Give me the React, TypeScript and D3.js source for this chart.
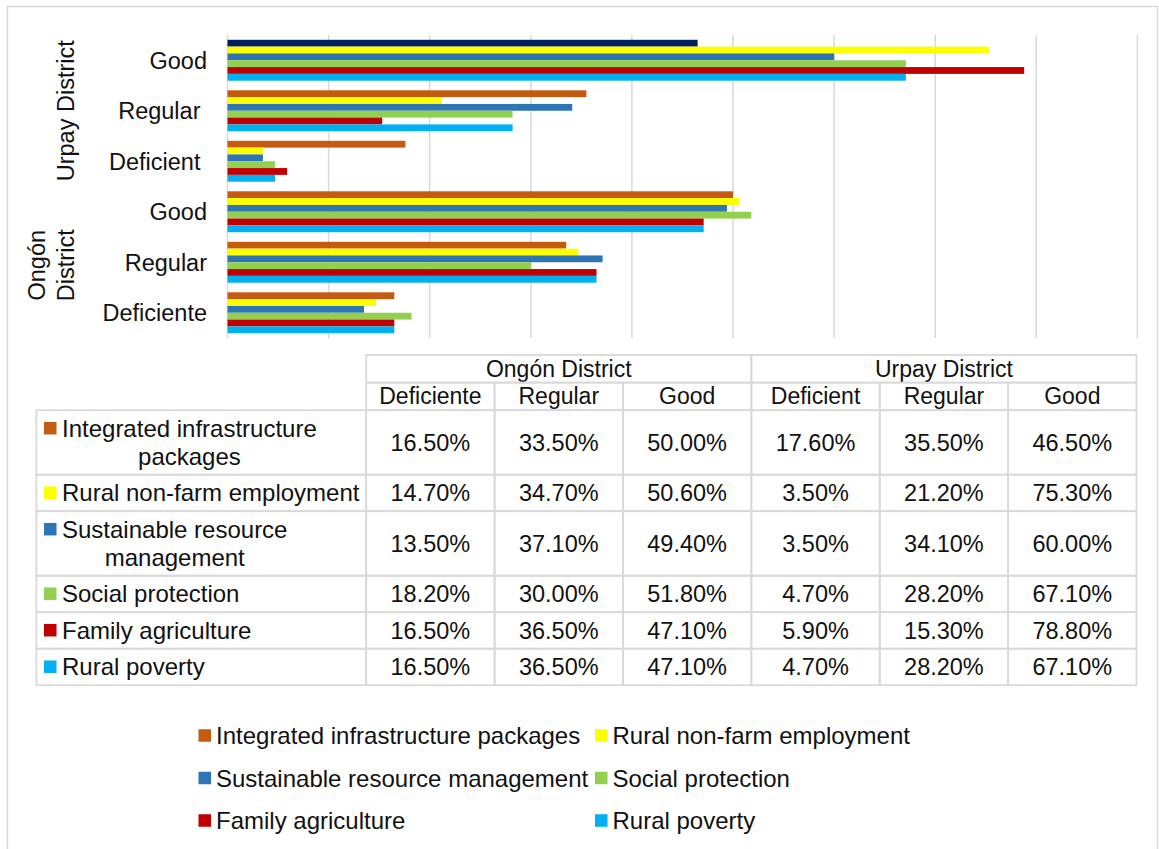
import { useEffect, useRef } from 'react';
import * as d3 from 'd3';

// series (rows of the data table)
const seriesNames = [
  'Integrated infrastructure packages',
  'Rural non-farm employment',
  'Sustainable resource management',
  'Social protection',
  'Family agriculture',
  'Rural poverty',
];
const seriesColors = ['#C55A11', '#FFFF00', '#2E75B6', '#92D050', '#C00000', '#00B0F0'];

// columns of the data table
const districts = ['Ongón District', 'Urpay District'];
const ongonLevels = ['Deficiente', 'Regular', 'Good'];
const urpayLevels = ['Deficient ', 'Regular ', 'Good'];

// values in table column order: Ongón Deficiente, Regular, Good, Urpay Deficient, Regular, Good
const integrated = [0.165, 0.335, 0.5, 0.176, 0.355, 0.465];
const nonFarm = [0.147, 0.347, 0.506, 0.035, 0.212, 0.753];
const sustainable = [0.135, 0.371, 0.494, 0.035, 0.341, 0.6];
const socialProtection = [0.182, 0.3, 0.518, 0.047, 0.282, 0.671];
const familyAgriculture = [0.165, 0.365, 0.471, 0.059, 0.153, 0.788];
const ruralPoverty = [0.165, 0.365, 0.471, 0.047, 0.282, 0.671];

const seriesValues = [integrated, nonFarm, sustainable, socialProtection, familyAgriculture, ruralPoverty];

// one point recoloured in the original (Integrated infrastructure, Urpay Good)
const overridePoint = { series: 0, column: 5, color: '#002060' };

const FONT = 'Arial, "Liberation Sans", sans-serif';
const GRID = '#d9d9d9';

export default function App() {
  const ref = useRef<SVGSVGElement>(null);

  useEffect(() => {
    const svg = d3.select(ref.current);
    svg.selectAll('*').remove();

    const width = 1159;
    const height = 849;

    // outer chart border
    svg
      .append('rect')
      .attr('x', 7.5)
      .attr('y', 6.5)
      .attr('width', width - 9)
      .attr('height', height + 10)
      .attr('fill', '#fff')
      .attr('stroke', GRID)
      .attr('stroke-width', 1.5);

    const columnLabels = [...ongonLevels, ...urpayLevels];
    const columnIds = columnLabels.map((_, i) => String(i));
    // chart shows the columns bottom-up
    const order = [...columnIds].reverse();

    // setup scales
    const x = d3.scaleLinear().domain([0, 0.9]).range([227.5, 1137.4]);
    const y = d3.scaleBand().domain(order).range([35, 338]).paddingInner(0.19).paddingOuter(0.095);
    const inner = d3.scaleBand().domain(seriesNames).range([0, y.bandwidth()]);

    // gridlines
    svg
      .append('g')
      .selectAll('line')
      .data(x.ticks(9))
      .join('line')
      .attr('x1', (d) => x(d))
      .attr('x2', (d) => x(d))
      .attr('y1', 35)
      .attr('y2', 338)
      .attr('stroke', GRID)
      .attr('stroke-width', 1.5);

    // bars
    const bars = [];
    seriesNames.forEach((name, s) => {
      seriesValues[s].forEach((v, c) => {
        bars.push({ name, s, c: String(c), v });
      });
    });
    svg
      .append('g')
      .selectAll('rect')
      .data(bars)
      .join('rect')
      .attr('x', x(0))
      .attr('y', (d) => y(d.c) + inner(d.name))
      .attr('width', (d) => x(d.v) - x(0))
      .attr('height', inner.bandwidth())
      .attr('fill', (d) =>
        d.s === overridePoint.series && +d.c === overridePoint.column ? overridePoint.color : seriesColors[d.s]
      );

    // category labels
    svg
      .append('g')
      .selectAll('text')
      .data(columnIds)
      .join('text')
      .attr('x', 207)
      .attr('y', (d) => y(d) + y.bandwidth() / 2 + 8.3)
      .attr('text-anchor', 'end')
      .style('white-space', 'pre')
      .attr('font-family', FONT)
      .attr('font-size', 23.5)
      .attr('fill', '#111')
      .text((d) => columnLabels[+d]);

    // district group labels (rotated, wrapped when too long)
    const measure = svg.append('text').attr('font-family', FONT).attr('font-size', 23);
    const textWidth = (t: string, size = 23) => {
      measure.attr('font-size', size).text(t);
      return (measure.node() as SVGTextElement).getComputedTextLength();
    };
    const wrap = (t: string, maxW: number, size = 23) => {
      const words = t.split(' ');
      const lines: string[] = [];
      let cur = '';
      words.forEach((w) => {
        const next = cur ? cur + ' ' + w : w;
        if (cur && textWidth(next, size) > maxW) {
          lines.push(cur);
          cur = w;
        } else cur = next;
      });
      lines.push(cur);
      return lines;
    };

    districts.forEach((name, g) => {
      const ids = columnIds.slice(g * 3, g * 3 + 3);
      const cy = d3.mean(ids, (d) => y(d) + y.bandwidth() / 2) + (g === 0 ? 3 : 0);
      const lines = wrap(name, 144, 23.5);
      lines.forEach((line, i) => {
        const cx = 65.5 - (lines.length - 1 - i) * 29;
        svg
          .append('text')
          .attr('transform', `translate(${cx},${cy}) rotate(-90)`)
          .attr('y', 8.3)
          .attr('text-anchor', 'middle')
          .attr('font-family', FONT)
          .attr('font-size', 23.5)
          .attr('fill', '#111')
          .text(line);
      });
    });

    // data table
    const tableLeft = 36.4;
    const labelRight = 366.2;
    const tableRight = 1136.5;
    const colW = (tableRight - labelRight) / columnIds.length;
    const headTop = 355;
    const headH = 27.6;
    const bodyTop = headTop + headH * 2;
    const table = svg.append('g').attr('font-family', FONT).attr('fill', '#111');
    const cell = (x0: number, y0: number, w: number, h: number) =>
      table
        .append('rect')
        .attr('x', x0)
        .attr('y', y0)
        .attr('width', w)
        .attr('height', h)
        .attr('fill', 'none')
        .attr('stroke', GRID)
        .attr('stroke-width', 1.8);

    districts.forEach((name, g) => {
      const x0 = labelRight + g * 3 * colW;
      cell(x0, headTop, colW * 3, headH);
      table
        .append('text')
        .attr('x', x0 + colW * 1.5)
        .attr('y', headTop + headH / 2 + 8)
        .attr('text-anchor', 'middle')
        .attr('font-size', 23)
        .text(name);
    });
    columnLabels.forEach((lab, c) => {
      const x0 = labelRight + c * colW;
      cell(x0, headTop + headH, colW, headH);
      table
        .append('text')
        .attr('x', x0 + colW / 2)
        .attr('y', headTop + headH * 1.5 + 8)
        .attr('text-anchor', 'middle')
        .attr('font-size', 23)
        .text(lab.trim());
    });

    const fmt = d3.format('.2%');
    const lineH = 28;
    let rowTop = bodyTop;
    seriesNames.forEach((name, s) => {
      const lines = wrap(name, labelRight - 62 - 3, 24);
      const rowH = 8.5 + lineH * lines.length;
      const cy = rowTop + rowH / 2;
      cell(tableLeft, rowTop, labelRight - tableLeft, rowH);
      table
        .append('rect')
        .attr('x', 44)
        .attr('y', rowTop + 4.25 + lineH / 2 - 6.5)
        .attr('width', 12.5)
        .attr('height', 12.5)
        .attr('fill', seriesColors[s]);
      const widths = lines.map((l) => textWidth(l, 24));
      const blockW = d3.max(widths);
      lines.forEach((l, i) => {
        table
          .append('text')
          .attr('x', 62 + blockW / 2)
          .attr('y', rowTop + 4.25 + lineH * i + lineH / 2 + 8.5)
          .attr('text-anchor', 'middle')
          .attr('font-size', 24)
          .text(l);
      });
      seriesValues[s].forEach((v, c) => {
        const x0 = labelRight + c * colW;
        cell(x0, rowTop, colW, rowH);
        table
          .append('text')
          .attr('x', x0 + colW / 2)
          .attr('y', cy + 8.3)
          .attr('text-anchor', 'middle')
          .attr('font-size', 23.5)
          .text(fmt(v));
      });
      rowTop += rowH;
    });

    measure.remove();

    // legend
    const legendX = [198.5, 595];
    const legendY = [735.5, 778, 820.5];
    const legend = svg
      .append('g')
      .selectAll('g')
      .data(seriesNames)
      .join('g')
      .attr('transform', (_, i) => `translate(${legendX[i % 2]},${legendY[Math.floor(i / 2)]})`);
    legend
      .append('rect')
      .attr('y', -6.25)
      .attr('width', 12.5)
      .attr('height', 12.5)
      .attr('fill', (_, i) => seriesColors[i]);
    legend
      .append('text')
      .attr('x', 17.5)
      .attr('y', 8.5)
      .attr('font-family', FONT)
      .attr('font-size', 24)
      .attr('fill', '#111')
      .text((d) => d);
  }, []);

  return (
    <div style={{ position: 'absolute', left: 0, top: 0 }}>
      <svg ref={ref} width={1159} height={849} style={{ display: 'block' }} />
    </div>
  );
}
